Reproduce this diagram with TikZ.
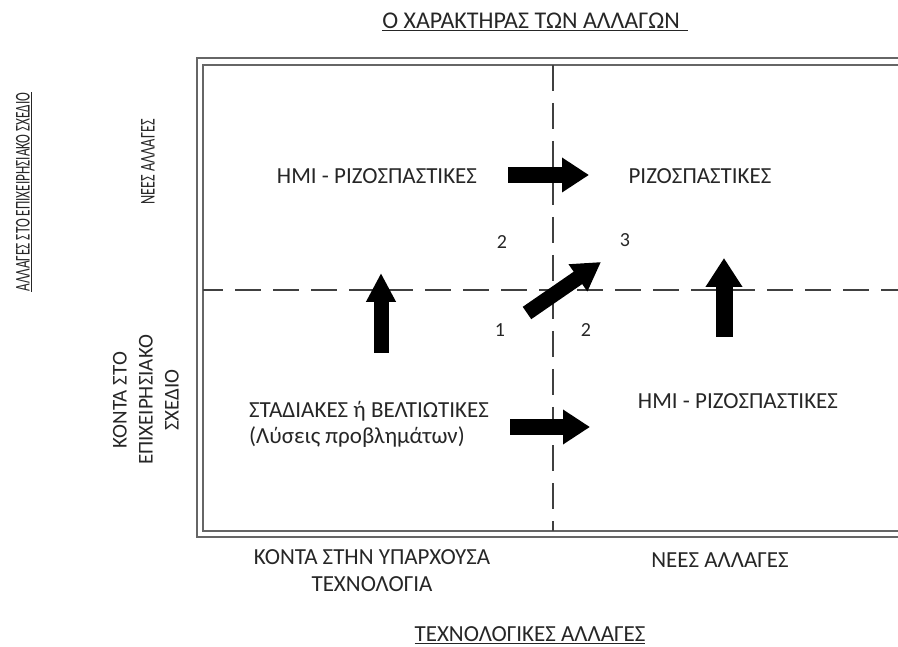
\documentclass[tikz,border=0pt]{standalone}
\usepackage{fontspec}
\setmainfont{Carlito}
\usetikzlibrary{arrows.meta}
\newcommand{\narrow}[2]{\scalebox{#1}[1]{#2}}
\begin{document}
\begin{tikzpicture}[x=1pt,y=-1pt,
  lbl/.style={font=\fontsize{23}{26}\selectfont, text=black!85, inner sep=0pt, align=center},
  vlbl/.style={font=\fontsize{21}{26}\selectfont, text=black!85, inner sep=0pt, align=center, rotate=90},
  num/.style={font=\fontsize{20}{22}\selectfont, text=black!85, inner sep=0pt},
  frame/.style={line width=1.8pt, draw=black!60},
  divider/.style={line width=1.3pt, draw=black!75, dash pattern=on 26pt off 12pt},
  blockarrow/.style={line width=16pt, -{Triangle[length=27pt,width=33pt]}, draw=black},
]
\useasboundingbox (0,0) rectangle (898,647);

% double frame (open on the right) and the two dividing lines
\begin{scope}
  \clip (0,0) rectangle (898,647);
  \draw[frame] (197,58) rectangle (930,537);
  \draw[frame] (203,65) rectangle (930,531);
  \draw[divider] (553,65) -- (553,531);
  \draw[divider, dash phase=6pt] (203,290) -- (898,290);
\end{scope}

% axis titles
\node[lbl, font=\fontsize{24}{26}\selectfont] (top) at (535,22) {\underline{Ο ΧΑΡΑΚΤΗΡΑΣ ΤΩΝ ΑΛΛΑΓΩΝ\kern8pt}};
\node[lbl] (bottom) at (530,635) {\underline{ΤΕΧΝΟΛΟΓΙΚΕΣ ΑΛΛΑΓΕΣ}};
\node[vlbl] (side) at (24,192) {\narrow{0.63}{\underline{ΑΛΛΑΓΕΣ ΣΤΟ ΕΠΙΧΕΙΡΗΣΙΑΚΟ ΣΧΕΔΙΟ}}};

% row labels
\node[vlbl] (rownew) at (148,162) {\narrow{0.68}{ΝΕΕΣ ΑΛΛΑΓΕΣ}};
\node[vlbl] (rownear) at (146,400) {ΚΟΝΤΑ ΣΤΟ\\ΕΠΙΧΕΙΡΗΣΙΑΚΟ\\ΣΧΕΔΙΟ};

% column labels
\node[lbl, font=\fontsize{23}{27}\selectfont] (colnear) at (372,571) {ΚΟΝΤΑ ΣΤΗΝ ΥΠΑΡΧΟΥΣΑ\\ΤΕΧΝΟΛΟΓΙΑ};
\node[lbl] (colnew) at (720,560) {ΝΕΕΣ ΑΛΛΑΓΕΣ};

% cell contents
\node[lbl] (semitop) at (377,176) {ΗΜΙ - ΡΙΖΟΣΠΑΣΤΙΚΕΣ};
\node[lbl] (radical) at (700,176) {ΡΙΖΟΣΠΑΣΤΙΚΕΣ};
\node[lbl, align=left, anchor=west] (gradual) at (249,424) {ΣΤΑΔΙΑΚΕΣ ή ΒΕΛΤΙΩΤΙΚΕΣ\\(Λύσεις προβλημάτων)};
\node[lbl] (semibot) at (738,401) {ΗΜΙ - ΡΙΖΟΣΠΑΣΤΙΚΕΣ};

% quadrant numbers
\node[num] (n2a) at (502,242) {2};
\node[num] (n3) at (625,240) {3};
\node[num] (n1) at (500,330) {1};
\node[num] (n2b) at (586,330) {2};

% block arrows
\coordinate (ra1) at (508,175);
\coordinate (ra2) at (589,175);
\coordinate (rb1) at (510,427);
\coordinate (rb2) at (590,427);
\coordinate (ua1) at (381,353);
\coordinate (ua2) at (381,273);
\coordinate (ub1) at (724,337);
\coordinate (ub2) at (724,258);
\coordinate (da1) at (527,313);
\coordinate (da2) at (601,262);

\draw[blockarrow] (ra1) -- (ra2);
\draw[blockarrow] (rb1) -- (rb2);
\draw[blockarrow, line width=15pt, -{Triangle[length=29pt,width=28pt]}] (ua1) -- (ua2);
\draw[blockarrow, line width=17pt, -{Triangle[length=29pt,width=35pt]}] (ub1) -- (ub2);
\draw[blockarrow, line width=15pt, -{Triangle[length=28pt,width=31pt]}] (da1) -- (da2);
\end{tikzpicture}
\end{document}
